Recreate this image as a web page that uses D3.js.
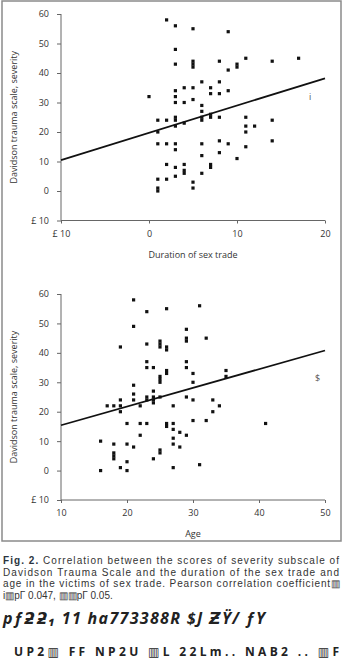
<!DOCTYPE html>
<html>
<head>
<meta charset="utf-8">
<script src="https://cdn.jsdelivr.net/npm/d3@7"></script>
<style>
  body { margin: 0; background: #fff; }
  svg { display: block; }
  .tick text { font-family: "Open Sans", "DejaVu Sans", sans-serif; font-size: 9px; fill: #333; }
  .axis path, .axis line { stroke: #666; }
</style>
</head>
<body>
<svg id="chart" width="343" height="662"></svg>
<script>
// duration of sex trade (years) vs Davidson trauma scale severity
var durationX = [2, 3, 5, 9, 3, 3, 5, 5, 5, 8, 9, 10, 10, 11, 14, 17,
    0, 1, 2, 3, 3, 3, 4, 4, 5, 5, 6, 6, 6, 6, 6, 7, 7, 7, 7, 8, 8, 8, 9, 3, 3, 3, 4, 1, 11, 11, 12, 11, 14,
    1, 2, 3, 3, 6, 8, 9, 6, 8, 11, 14, 10, 2, 3, 4, 4, 4, 6, 7, 7, 3, 1, 2, 5, 5, 1, 1];
var durationY = [58, 56, 55, 54, 48, 43, 44, 43, 42, 44, 41, 43, 42, 45, 44, 45,
    32, 24, 24, 34, 32, 30, 35, 30, 35, 31, 37, 29, 27, 25, 24, 35, 33, 26, 25, 37, 33, 25, 34, 25, 24, 22, 23, 20, 25, 22, 22, 20, 24,
    16, 16, 16, 14, 16, 17, 16, 12, 13, 15, 17, 11, 9, 8, 9, 7, 6, 6, 9, 8, 5, 4, 4, 3, 1, 1, 0];

// age vs Davidson trauma scale severity
var ageX = [21, 23, 26, 31, 21, 19, 23, 25, 25, 25, 26, 26, 29, 29, 29, 32, 23, 23, 24, 25, 25, 25, 26, 26, 29, 29, 30, 30, 35, 35,
    21, 21, 21, 19, 17, 18, 19, 19, 22, 23, 23, 24, 24, 24, 24, 25, 27, 29, 30, 33, 33, 34,
    16, 16, 18, 18, 18, 18, 19, 20, 20, 20, 21, 20, 22, 23, 22, 24, 25, 25, 26, 26, 27, 27, 27, 27, 27, 28, 28, 29, 30, 31, 32, 41];
var ageY = [58, 54, 55, 56, 49, 42, 43, 44, 43, 42, 42, 41, 48, 45, 44, 45, 37, 35, 35, 32, 31, 30, 34, 33, 37, 35, 33, 30, 34, 32,
    29, 26, 24, 24, 22, 22, 22, 20, 22, 25, 24, 27, 25, 24, 23, 25, 22, 25, 24, 24, 20, 22,
    10, 0, 9, 6, 5, 4, 1, 9, 3, 0, 8, 16, 16, 16, 12, 4, 7, 6, 16, 15, 16, 14, 11, 9, 1, 13, 8, 12, 17, 2, 17, 16];

// fitted lines, [x, y] at the ends of each x domain
var durationFit = [[-10, 10.5], [20, 38.2]];
var ageFit = [[10, 15.4], [50, 40.8]];

var yTicks = [-10, 0, 10, 20, 30, 40, 50, 60];
var durationTicks = [-10, 0, 10, 20];
var ageTicks = [10, 20, 30, 40, 50];
var yTitle = 'Davidson trauma scale, severity';

var svg = d3.select('#chart');
var font = '"Open Sans", "DejaVu Sans", sans-serif';
var capFont = '"Liberation Sans", Arial, sans-serif';

// outer frame round both panels
svg.append('rect')
    .attr('x', 2).attr('y', 1).attr('width', 339).attr('height', 540)
    .attr('fill', 'none').attr('stroke', '#8a8a8a').attr('stroke-width', 1.5);

function negLabel(d) { return d < 0 ? '\u00a3 ' + Math.abs(d) : d; }

function drawPanel(opts) {
    var x = d3.scaleLinear().domain(opts.xDomain).range([61, 325]);
    var y = d3.scaleLinear().domain([-10, 60]).range([opts.bottom, opts.top]);
    var g = svg.append('g');

    g.append('g').attr('class', 'axis')
        .attr('transform', 'translate(61,0)')
        .call(d3.axisLeft(y).tickValues(yTicks).tickSize(4).tickPadding(8).tickFormat(negLabel))
        .call(function (a) { a.select('.domain').attr('d', 'M0,' + opts.top + 'V' + opts.bottom); });

    g.append('g').attr('class', 'axis')
        .attr('transform', 'translate(0,' + opts.bottom + ')')
        .call(d3.axisBottom(x).tickValues(opts.xTicks).tickSize(3).tickPadding(7).tickFormat(negLabel))
        .call(function (a) { a.select('.domain').attr('d', 'M61,0H325'); });

    g.append('text')
        .attr('transform', 'translate(17,' + ((opts.top + opts.bottom) / 2) + ') rotate(-90)')
        .attr('text-anchor', 'middle')
        .attr('font-family', font).attr('font-size', 9).attr('fill', '#333')
        .text(yTitle);

    g.append('text')
        .attr('x', 193).attr('y', opts.bottom + 37)
        .attr('text-anchor', 'middle')
        .attr('font-family', font).attr('font-size', 9).attr('fill', '#333')
        .text(opts.xTitle);

    g.append('path')
        .datum(opts.fit)
        .attr('d', d3.line().x(function (d) { return x(d[0]); }).y(function (d) { return y(d[1]); }))
        .attr('stroke', '#111').attr('stroke-width', 1.8).attr('fill', 'none');

    g.selectAll('rect.pt')
        .data(opts.xs.map(function (v, i) { return [v, opts.ys[i]]; }))
        .enter().append('rect')
        .attr('class', 'pt')
        .attr('x', function (d) { return x(d[0]) - 1.6; })
        .attr('y', function (d) { return y(d[1]) - 1.6; })
        .attr('width', 3.2).attr('height', 3.2)
        .attr('fill', '#111');

    g.append('text')
        .attr('x', opts.mark[0]).attr('y', opts.mark[1])
        .attr('font-family', font).attr('font-size', 9).attr('fill', '#555')
        .text(opts.mark[2]);
}

drawPanel({ xDomain: [-10, 20], xTicks: durationTicks, top: 14, bottom: 220.5,
    xs: durationX, ys: durationY, fit: durationFit, xTitle: 'Duration of sex trade', mark: [309, 100, 'i'] });
drawPanel({ xDomain: [10, 50], xTicks: ageTicks, top: 294, bottom: 500,
    xs: ageX, ys: ageY, fit: ageFit, xTitle: 'Age', mark: [315, 381, '$'] });

// caption
var box = '\u25a5';
var cap = svg.append('g').attr('font-family', capFont).attr('font-size', 10).attr('fill', '#333');
var l1 = cap.append('text').attr('x', 3).attr('y', 564).attr('textLength', 336).attr('lengthAdjust', 'spacing');
l1.append('tspan').attr('font-weight', 'bold').attr('fill', '#2a3440').text('Fig. 2.');
l1.append('tspan').text(' Correlation between the scores of severity subscale of');
cap.append('text').attr('x', 3).attr('y', 575.5).attr('textLength', 336).attr('lengthAdjust', 'spacing')
    .text('Davidson Trauma Scale and the duration of the sex trade and');
cap.append('text').attr('x', 3).attr('y', 587).attr('textLength', 337).attr('lengthAdjust', 'spacing')
    .text('age in the victims of sex trade. Pearson correlation coefficient' + box);
cap.append('text').attr('x', 3).attr('y', 598.5)
    .text('i' + box + 'p\u0393  0.047,  ' + box + box + 'p\u0393 0.05.');

// garbled lines under the caption
svg.append('text').attr('x', 3).attr('y', 624)
    .attr('textLength', 262).attr('lengthAdjust', 'spacing')
    .attr('font-family', font).attr('font-size', 16).attr('font-weight', 'bold').attr('font-style', 'italic').attr('fill', '#222')
    .text('p\u0192\u01bb\u01bb\u2081 11 ha773388R  $J \u01b5\u0178/ \u0192Y');
svg.append('text').attr('x', 14).attr('y', 656)
    .attr('textLength', 325).attr('lengthAdjust', 'spacing')
    .attr('font-family', font).attr('font-size', 12).attr('font-weight', 'bold').attr('fill', '#222')
    .text('UP2' + box + ' FF    NP2U ' + box + 'L  22Lm.. NAB2    .. ' + box + 'F');
</script>
</body>
</html>
